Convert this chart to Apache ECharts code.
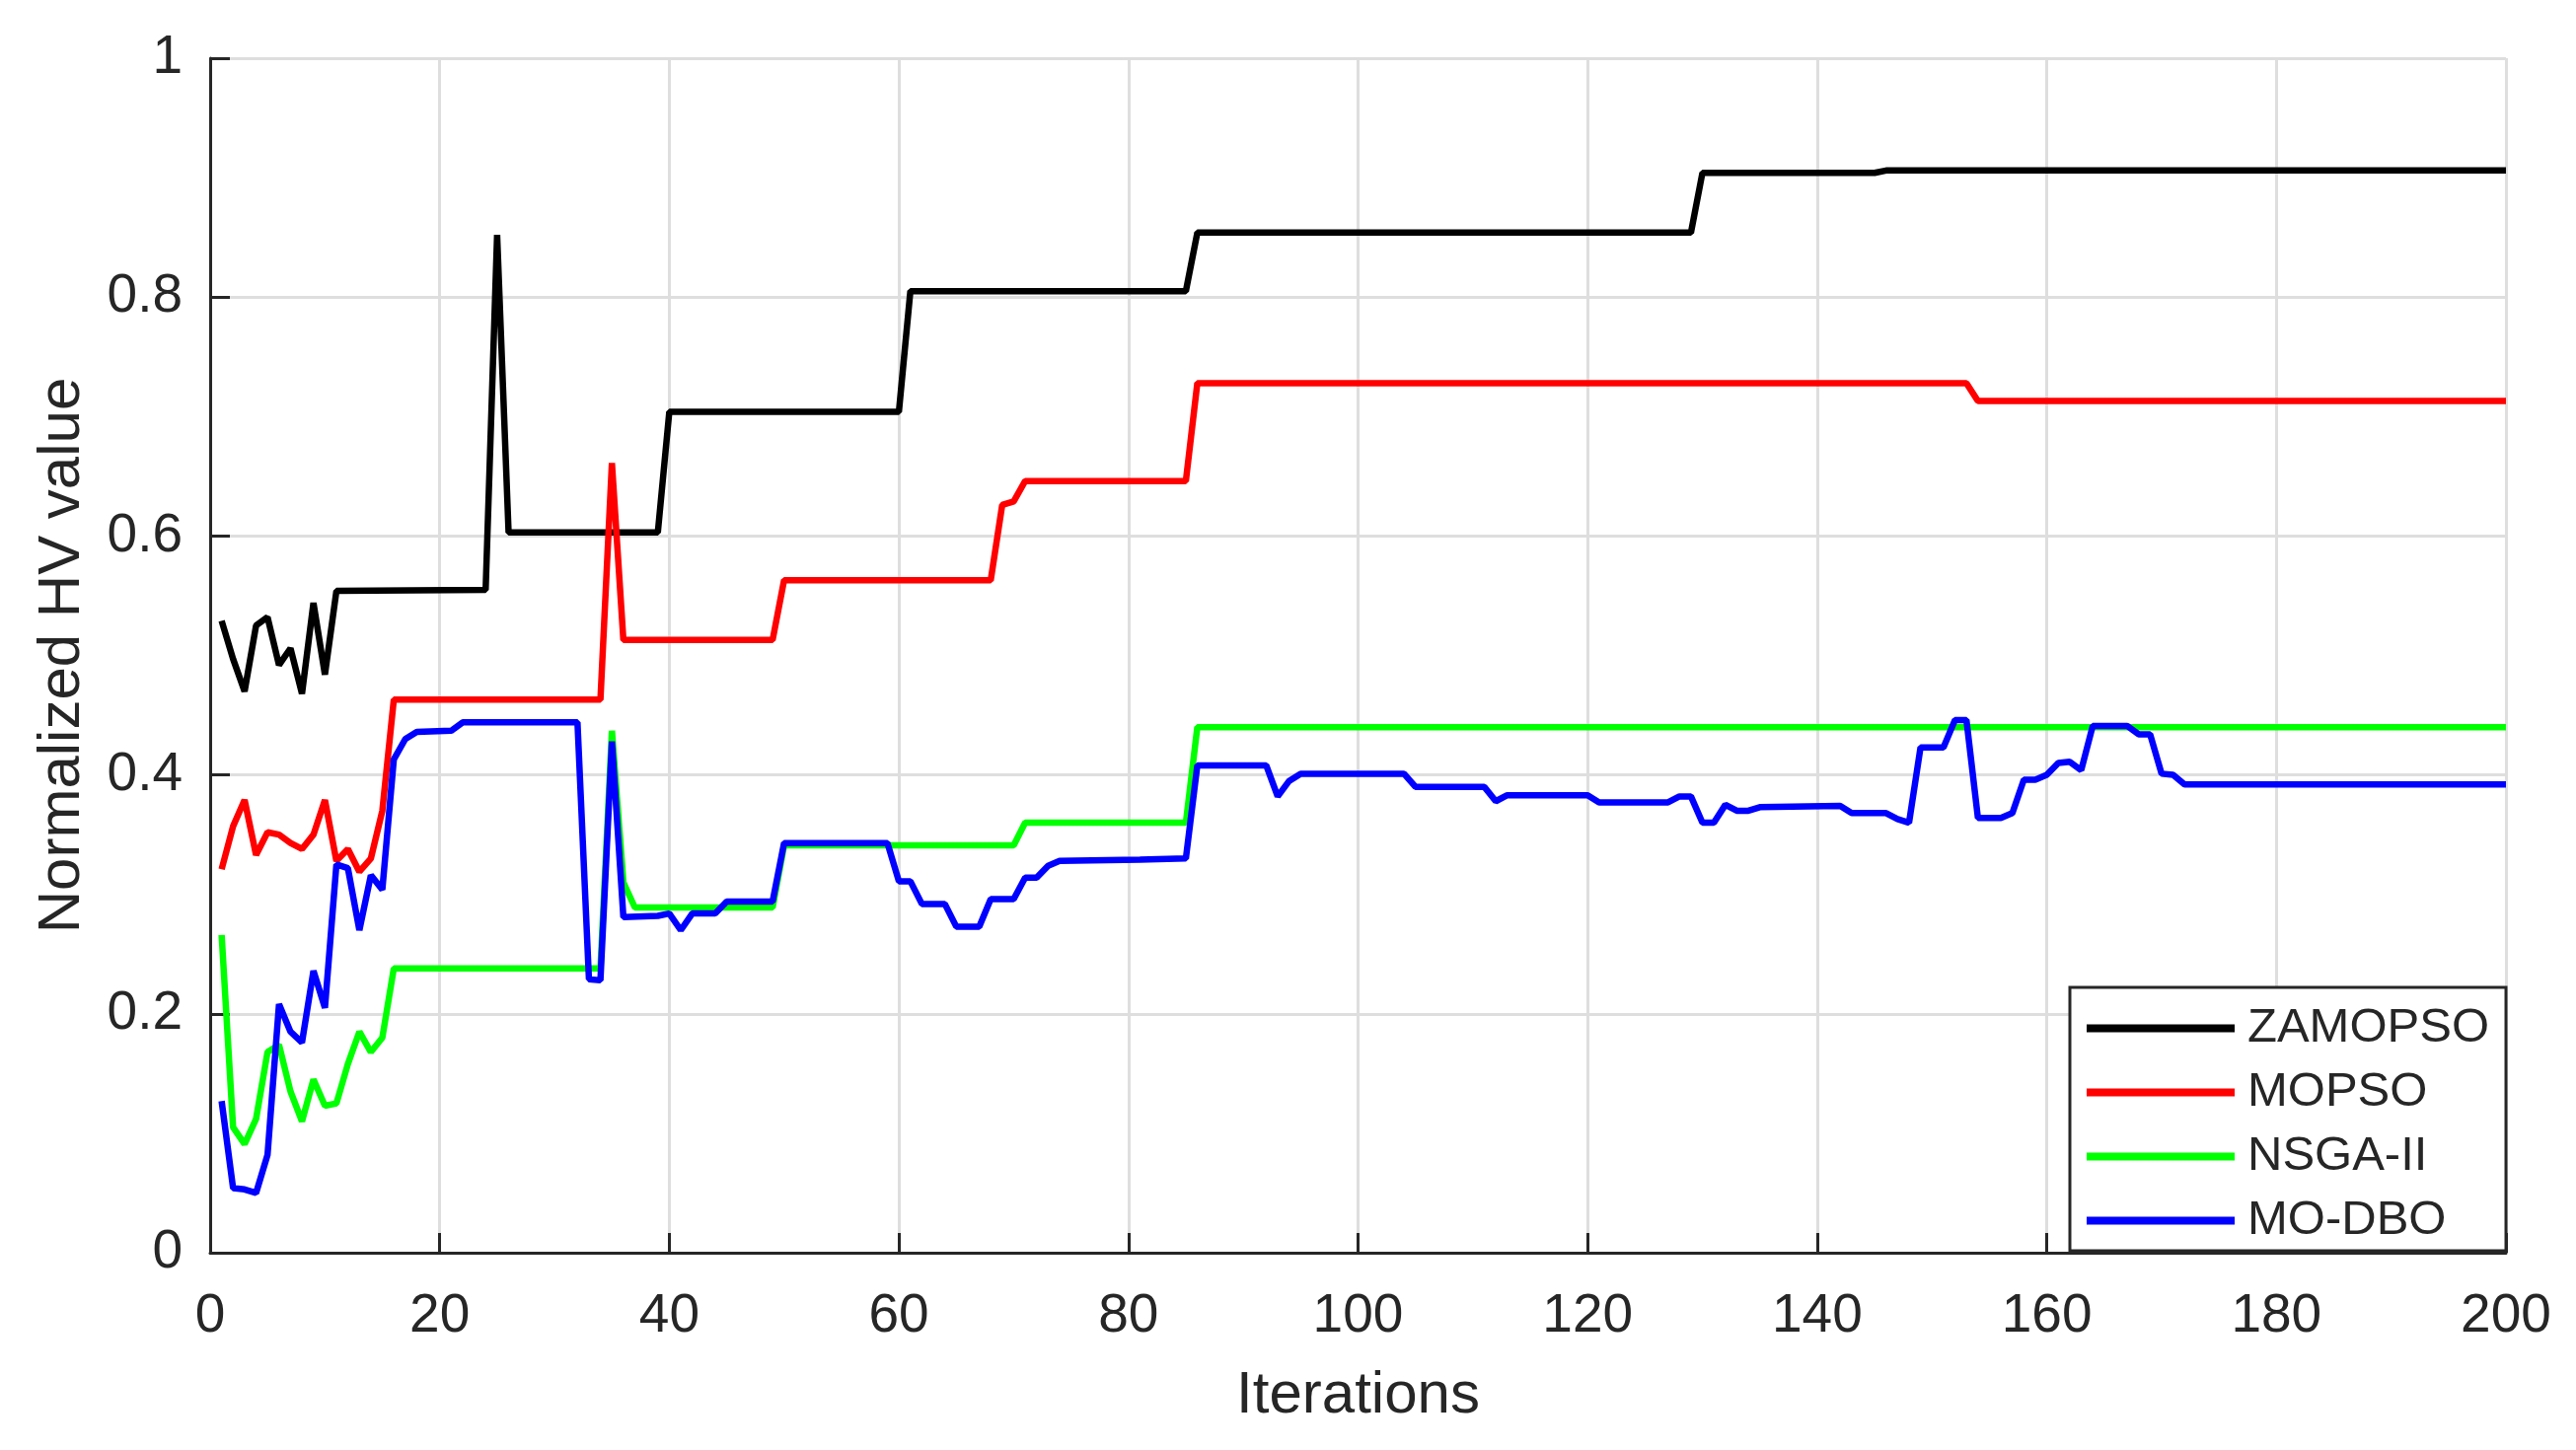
<!DOCTYPE html>
<html>
<head>
<meta charset="utf-8">
<title>Normalized HV value</title>
<script src="https://cdn.jsdelivr.net/npm/echarts@6/dist/echarts.min.js"></script>
<style>
  html, body { margin: 0; padding: 0; background: #fff; }
  #chart { width: 2611px; height: 1470px; }
</style>
</head>
<body>
<div id="chart"></div>
<script>
// [iteration, normalized HV]; flat runs keep only their ends
const zamopso = [
  [1, 0.529], [2, 0.497], [3, 0.470], [4, 0.525], [5, 0.532], [6, 0.492],
  [7, 0.506], [8, 0.468], [9, 0.544], [10, 0.484], [11, 0.554], [24, 0.555],
  [25, 0.852], [26, 0.603], [39, 0.603], [40, 0.704], [60, 0.704], [61, 0.805],
  [85, 0.805], [86, 0.854], [129, 0.854], [130, 0.904], [145, 0.904],
  [146, 0.906], [200, 0.906]
];
const mopso = [
  [1, 0.321], [2, 0.357], [3, 0.379], [4, 0.333], [5, 0.352], [6, 0.350],
  [7, 0.343], [8, 0.338], [9, 0.350], [10, 0.379], [11, 0.328], [12, 0.338],
  [13, 0.319], [14, 0.330], [15, 0.370], [16, 0.463], [34, 0.463], [35, 0.661],
  [36, 0.513], [49, 0.513], [50, 0.563], [68, 0.563], [69, 0.626], [70, 0.629],
  [71, 0.646], [85, 0.646], [86, 0.728], [153, 0.728], [154, 0.713], [200, 0.713]
];
const nsga2 = [
  [1, 0.266], [2, 0.105], [3, 0.091], [4, 0.112], [5, 0.168], [6, 0.174],
  [7, 0.135], [8, 0.110], [9, 0.145], [10, 0.123], [11, 0.125], [12, 0.158],
  [13, 0.185], [14, 0.168], [15, 0.180], [16, 0.238], [34, 0.238], [35, 0.437],
  [36, 0.310], [37, 0.289], [49, 0.289], [50, 0.341], [70, 0.341], [71, 0.360],
  [85, 0.360], [86, 0.440], [200, 0.440]
];
const modbo = [
  [1, 0.127], [2, 0.054], [3, 0.053], [4, 0.050], [5, 0.082], [6, 0.208],
  [7, 0.185], [8, 0.176], [9, 0.236], [10, 0.205], [11, 0.325], [12, 0.322],
  [13, 0.270], [14, 0.316], [15, 0.304], [16, 0.413], [17, 0.430], [18, 0.436],
  [21, 0.437], [22, 0.444], [32, 0.444], [33, 0.229], [34, 0.228], [35, 0.428],
  [36, 0.281], [39, 0.282], [40, 0.284], [41, 0.270], [42, 0.284], [44, 0.284],
  [45, 0.294], [49, 0.294], [50, 0.343], [59, 0.343], [60, 0.311], [61, 0.311],
  [62, 0.292], [64, 0.292], [65, 0.273], [67, 0.273], [68, 0.296], [70, 0.296],
  [71, 0.314], [72, 0.314], [73, 0.324], [74, 0.328], [81, 0.329], [85, 0.330],
  [86, 0.408], [92, 0.408], [93, 0.382], [94, 0.395], [95, 0.401], [104, 0.401],
  [105, 0.390], [111, 0.390], [112, 0.378], [113, 0.383], [120, 0.383],
  [121, 0.377], [127, 0.377], [128, 0.382], [129, 0.382], [130, 0.360],
  [131, 0.360], [132, 0.375], [133, 0.370], [134, 0.370], [135, 0.373],
  [142, 0.374], [143, 0.368], [146, 0.368], [147, 0.363], [148, 0.360],
  [149, 0.423], [151, 0.423], [152, 0.446], [153, 0.446], [154, 0.364],
  [156, 0.364], [157, 0.368], [158, 0.396], [159, 0.396], [160, 0.400],
  [161, 0.410], [162, 0.411], [163, 0.404], [164, 0.441], [167, 0.441],
  [168, 0.434], [169, 0.434], [170, 0.401], [171, 0.400], [172, 0.392],
  [200, 0.392]
];
const seriesNames = ["ZAMOPSO", "MOPSO", "NSGA-II", "MO-DBO"];
const seriesData = [zamopso, mopso, nsga2, modbo];
const colors = ["#000000", "#ff0000", "#00ff00", "#0000ff"];

const font = "'Liberation Sans', Arial, sans-serif";
const ink = "#262626";

const chart = echarts.init(document.getElementById("chart"));

const axisCommon = {
  type: "value",
  nameLocation: "middle",
  nameTextStyle: { fontSize: 60, color: ink, fontFamily: font },
  axisLine: { show: true, onZero: false, lineStyle: { color: ink, width: 3 } },
  axisTick: { show: true, inside: true, length: 20, lineStyle: { color: ink, width: 3 } },
  splitLine: { show: true, lineStyle: { color: "#dedede", width: 3 } }
};

const option = {
  animation: false,
  backgroundColor: "#fff",
  color: colors,
  grid: { left: 213, right: 71, top: 59, bottom: 200, containLabel: false },
  xAxis: Object.assign({}, axisCommon, {
    min: 0,
    max: 200,
    interval: 20,
    name: "Iterations",
    nameGap: 115,
    axisLabel: { fontSize: 55, color: ink, fontFamily: font, margin: 37 }
  }),
  yAxis: Object.assign({}, axisCommon, {
    min: 0,
    max: 1,
    interval: 0.2,
    name: "Normalized HV value",
    nameGap: 120,
    axisLabel: { fontSize: 55, color: ink, fontFamily: font, margin: 28 }
  }),
  legend: {
    orient: "vertical",
    left: 2098,
    top: 1001,
    padding: [17, 17, 6, 17],
    itemGap: 16,
    itemWidth: 150,
    itemHeight: 8,
    icon: "rect",
    backgroundColor: "#fff",
    borderColor: ink,
    borderWidth: 3,
    borderRadius: 0,
    selectedMode: false,
    textStyle: { fontSize: 49, color: ink, fontFamily: font, padding: [0, 0, 0, 8] },
    data: seriesNames
  },
  series: seriesNames.map((name, i) => ({
    name: name,
    type: "line",
    data: seriesData[i],
    showSymbol: false,
    symbol: "none",
    lineStyle: { width: 6.5, color: colors[i] },
    itemStyle: { color: colors[i] }
  }))
};

chart.setOption(option);
window.addEventListener("resize", () => {
  chart && chart.resize();
});
</script>
</body>
</html>
